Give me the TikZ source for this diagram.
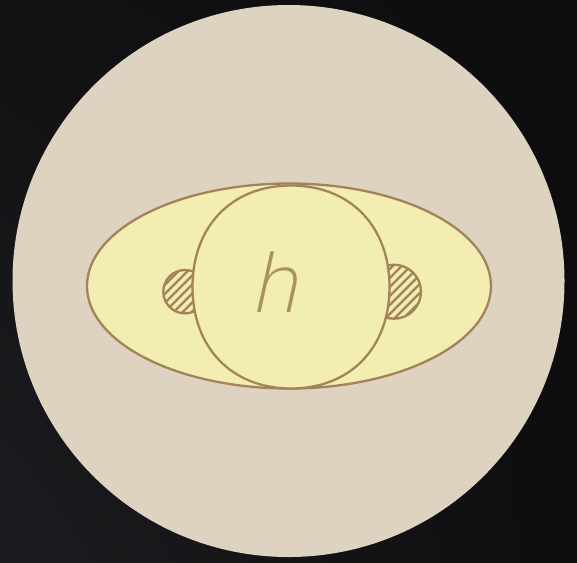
\documentclass[tikz,border=0pt]{standalone}
\usepackage{fontspec}
\usetikzlibrary{shadings}
\newfontfamily\hfont[FakeSlant=0.22]{DejaVu Sans ExtraLight}
\definecolor{bgdark}{HTML}{0D0D0F}
\definecolor{bglight}{HTML}{1C1C20}
\definecolor{disc}{HTML}{DED3C1}
\definecolor{pale}{HTML}{F2EDB0}
\definecolor{ink}{HTML}{A3845A}
\definecolor{hink}{HTML}{AA9064}
\begin{document}
\begin{tikzpicture}[x=1pt,y=-1pt,
  outline/.style={draw=ink,line width=2.3pt},
  hatchline/.style={draw=ink,line width=2.2pt}]
\useasboundingbox (0,0) rectangle (577,562);
\shade[upper right=bgdark, upper left=bgdark!70!bglight, lower left=bglight, lower right=bgdark]
  (0,0) rectangle (577,562);
% big beige disc
\fill[disc] (288.5,281) circle [radius=276pt];
% outer yellow oval
\filldraw[fill=pale, outline] (289,286) ellipse [x radius=202pt, y radius=102.5pt];
% left hatched lobe
\begin{scope}
  \clip (185,291.7) circle [radius=21.7pt];
  \foreach \i in {-72,-63,...,72}
    \draw[hatchline] (185+\i-40,291.7+40) -- (185+\i+40,291.7-40);
\end{scope}
\draw[outline] (185,291.7) circle [radius=21.7pt];
% right hatched lobe
\begin{scope}
  \clip (394,291.7) circle [radius=27pt];
  \foreach \i in {-72,-63,...,72}
    \draw[hatchline] (394+\i-40,291.7+40) -- (394+\i+40,291.7-40);
\end{scope}
\draw[outline] (394,291.7) circle [radius=27pt];
% inner rounded body
\filldraw[fill=pale, outline]
  (389.5,287) .. controls (389.5,226) and (350,185.5) .. (291,185.5)
  .. controls (232,185.5) and (192.5,226) .. (192.5,287)
  .. controls (192.5,348) and (232,388.5) .. (291,388.5)
  .. controls (350,388.5) and (389.5,348) .. cycle;
\node[text=hink, font=\hfont\fontsize{80}{80}\selectfont, anchor=base, inner sep=0pt] (hletter) at (274,312) {h};
\end{tikzpicture}
\end{document}
